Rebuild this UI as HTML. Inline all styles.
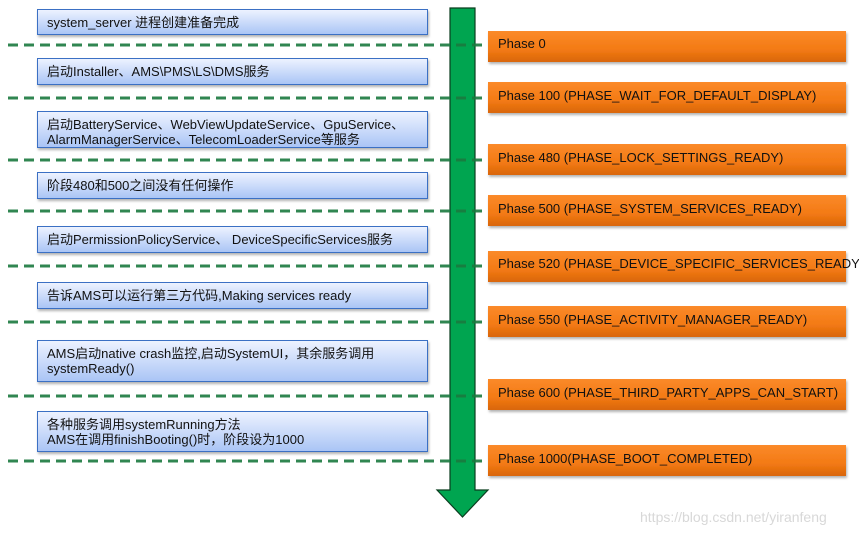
<!DOCTYPE html>
<html><head><meta charset="utf-8"><style>
html,body{margin:0;padding:0;background:#fff;width:859px;height:535px;overflow:hidden}
svg text{font-family:"Liberation Sans","Noto Sans CJK SC",sans-serif;font-size:13px;fill:#111}
</style></head><body>
<svg width="859" height="535" viewBox="0 0 859 535" xmlns="http://www.w3.org/2000/svg">
<defs>
<linearGradient id="b" x1="0" y1="0" x2="0" y2="1"><stop offset="0" stop-color="#eef3ff"/><stop offset="1" stop-color="#a9c4f5"/></linearGradient>
<linearGradient id="o" x1="0" y1="0" x2="0" y2="1"><stop offset="0" stop-color="#fb8a2a"/><stop offset="0.6" stop-color="#f37a14"/><stop offset="1" stop-color="#d9660a"/></linearGradient>
<filter id="s" x="-5%" y="-20%" width="110%" height="150%"><feDropShadow dx="1" dy="2" stdDeviation="1.2" flood-color="#000" flood-opacity="0.3"/></filter>
</defs>
<!-- arrow -->
<path d="M450,8 H475 V490 H488 L462.5,517 L437,490 H450 Z" fill="#00a550" stroke="#0b3d1f" stroke-width="1.2"/>
<!-- dashed lines -->
<g stroke="#1a7a3f" stroke-width="3" stroke-dasharray="10,6" opacity="0.9">
<line x1="8" y1="45" x2="488" y2="45"/>
<line x1="8" y1="98" x2="488" y2="98"/>
<line x1="8" y1="160" x2="488" y2="160"/>
<line x1="8" y1="211" x2="488" y2="211"/>
<line x1="8" y1="266" x2="488" y2="266"/>
<line x1="8" y1="322" x2="488" y2="322"/>
<line x1="8" y1="396" x2="488" y2="396"/>
<line x1="8" y1="461" x2="488" y2="461"/>
</g>
<!-- blue boxes -->
<g fill="url(#b)" stroke="#3a6fc4" stroke-width="1" filter="url(#s)">
<rect x="37.5" y="9.5" width="390" height="25"/>
<rect x="37.5" y="58.5" width="390" height="26"/>
<rect x="37.5" y="111.5" width="390" height="36"/>
<rect x="37.5" y="172.5" width="390" height="26"/>
<rect x="37.5" y="226.5" width="390" height="26"/>
<rect x="37.5" y="282.5" width="390" height="26"/>
<rect x="37.5" y="340.5" width="390" height="41"/>
<rect x="37.5" y="411.5" width="390" height="40"/>
</g>
<text x="47" y="27">system_server 进程创建准备完成</text>
<text x="47" y="76">启动Installer、AMS\PMS\LS\DMS服务</text>
<text x="47" y="129">启动BatteryService、WebViewUpdateService、GpuService、</text>
<text x="47" y="144">AlarmManagerService、TelecomLoaderService等服务</text>
<text x="47" y="190">阶段480和500之间没有任何操作</text>
<text x="47" y="244">启动PermissionPolicyService、 DeviceSpecificServices服务</text>
<text x="47" y="300">告诉AMS可以运行第三方代码,Making services ready</text>
<text x="47" y="358">AMS启动native crash监控,启动SystemUI，其余服务调用</text>
<text x="47" y="373">systemReady()</text>
<text x="47" y="429">各种服务调用systemRunning方法</text>
<text x="47" y="444">AMS在调用finishBooting()时，阶段设为1000</text>
<!-- orange boxes -->
<g fill="url(#o)" filter="url(#s)">
<rect x="488" y="31" width="358" height="31"/>
<rect x="488" y="82" width="358" height="31"/>
<rect x="488" y="144" width="358" height="31"/>
<rect x="488" y="195" width="358" height="31"/>
<rect x="488" y="251" width="358" height="31"/>
<rect x="488" y="306" width="358" height="31"/>
<rect x="488" y="379" width="358" height="31"/>
<rect x="488" y="445" width="358" height="31"/>
</g>
<text x="498" y="48">Phase 0</text>
<text x="498" y="100">Phase 100 (PHASE_WAIT_FOR_DEFAULT_DISPLAY)</text>
<text x="498" y="162">Phase 480 (PHASE_LOCK_SETTINGS_READY)</text>
<text x="498" y="213">Phase 500 (PHASE_SYSTEM_SERVICES_READY)</text>
<text x="498" y="268">Phase 520 (PHASE_DEVICE_SPECIFIC_SERVICES_READY)</text>
<text x="498" y="324">Phase 550 (PHASE_ACTIVITY_MANAGER_READY)</text>
<text x="498" y="397">Phase 600 (PHASE_THIRD_PARTY_APPS_CAN_START)</text>
<text x="498" y="463">Phase 1000(PHASE_BOOT_COMPLETED)</text>
<text x="640" y="522" style="fill:#d8d8d8;font-size:14px">https://blog.csdn.net/yiranfeng</text>
</svg>
</body></html>
